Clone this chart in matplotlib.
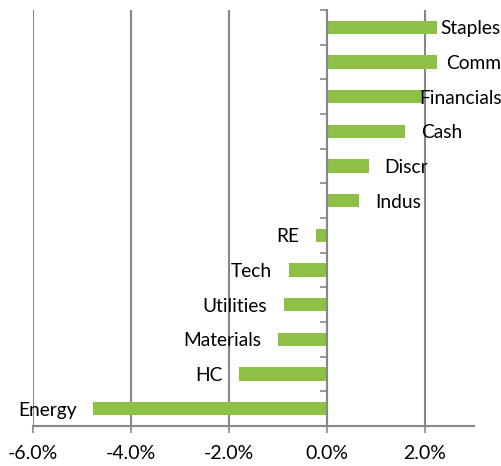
import matplotlib
matplotlib.use("Agg")
import matplotlib.pyplot as plt
from matplotlib.ticker import FuncFormatter, MultipleLocator

plt.rcParams['font.family'] = ['Lato', 'DejaVu Sans']

# data
sectors = ["Staples", "Comm", "Financials", "Cash", "Discr", "Indus",
           "RE", "Tech", "Utilities", "Materials", "HC", "Energy"]
values = [2.25, 2.25, 1.93, 1.60, 0.85, 0.65,
          -0.23, -0.78, -0.88, -1.01, -1.80, -4.77]

# label offsets in pixels (top ones pulled in so they stay in the chart)
label_shift = {"Staples": 3, "Comm": 9, "Financials": -2}

green = "#8DC044"
grey = "#878787"

fig = plt.figure(figsize=(5.01, 4.66), dpi=100)
ax = fig.add_axes([33/501, 1-426/466, (474-33)/501, (426-10)/466])

ypos = list(range(len(sectors)))
ax.barh(ypos, values, height=0.38, color=green, zorder=3)

ax.set_xlim(-6, 3)
ax.set_ylim(len(sectors)-0.5, -0.5)

for y, name, v in zip(ypos, sectors, values):
    if v >= 0:
        dx = label_shift.get(name, 16) * 0.72
        ax.annotate(name, (v, y), xytext=(dx, -1), textcoords="offset points",
                    ha="left", va="center", fontsize=13.8, zorder=4)
    else:
        ax.annotate(name, (v, y), xytext=(-12, -1), textcoords="offset points",
                    ha="right", va="center", fontsize=13.8, zorder=4)

ax.xaxis.set_major_locator(MultipleLocator(2))
ax.xaxis.set_major_formatter(FuncFormatter(lambda x, p: "%.1f%%" % x))
ax.grid(axis="x", color=grey, linewidth=1.5, zorder=0)
ax.tick_params(axis="x", direction="out", length=5, width=1.2, color=grey,
               labelsize=14, pad=9)

ax.spines["top"].set_visible(False)
ax.spines["right"].set_visible(False)
ax.spines["bottom"].set_color(grey)
ax.spines["bottom"].set_linewidth(1.5)
ax.spines["left"].set_position(("data", 0))
ax.spines["left"].set_color(grey)
ax.spines["left"].set_linewidth(1.5)
ax.spines["left"].set_zorder(5)

ax.set_yticks([k - 0.5 for k in range(len(sectors))])
ax.set_yticklabels([])
ax.tick_params(axis="y", direction="out", length=5, width=1.2, color=grey)

fig.savefig("out.png", dpi=100)
